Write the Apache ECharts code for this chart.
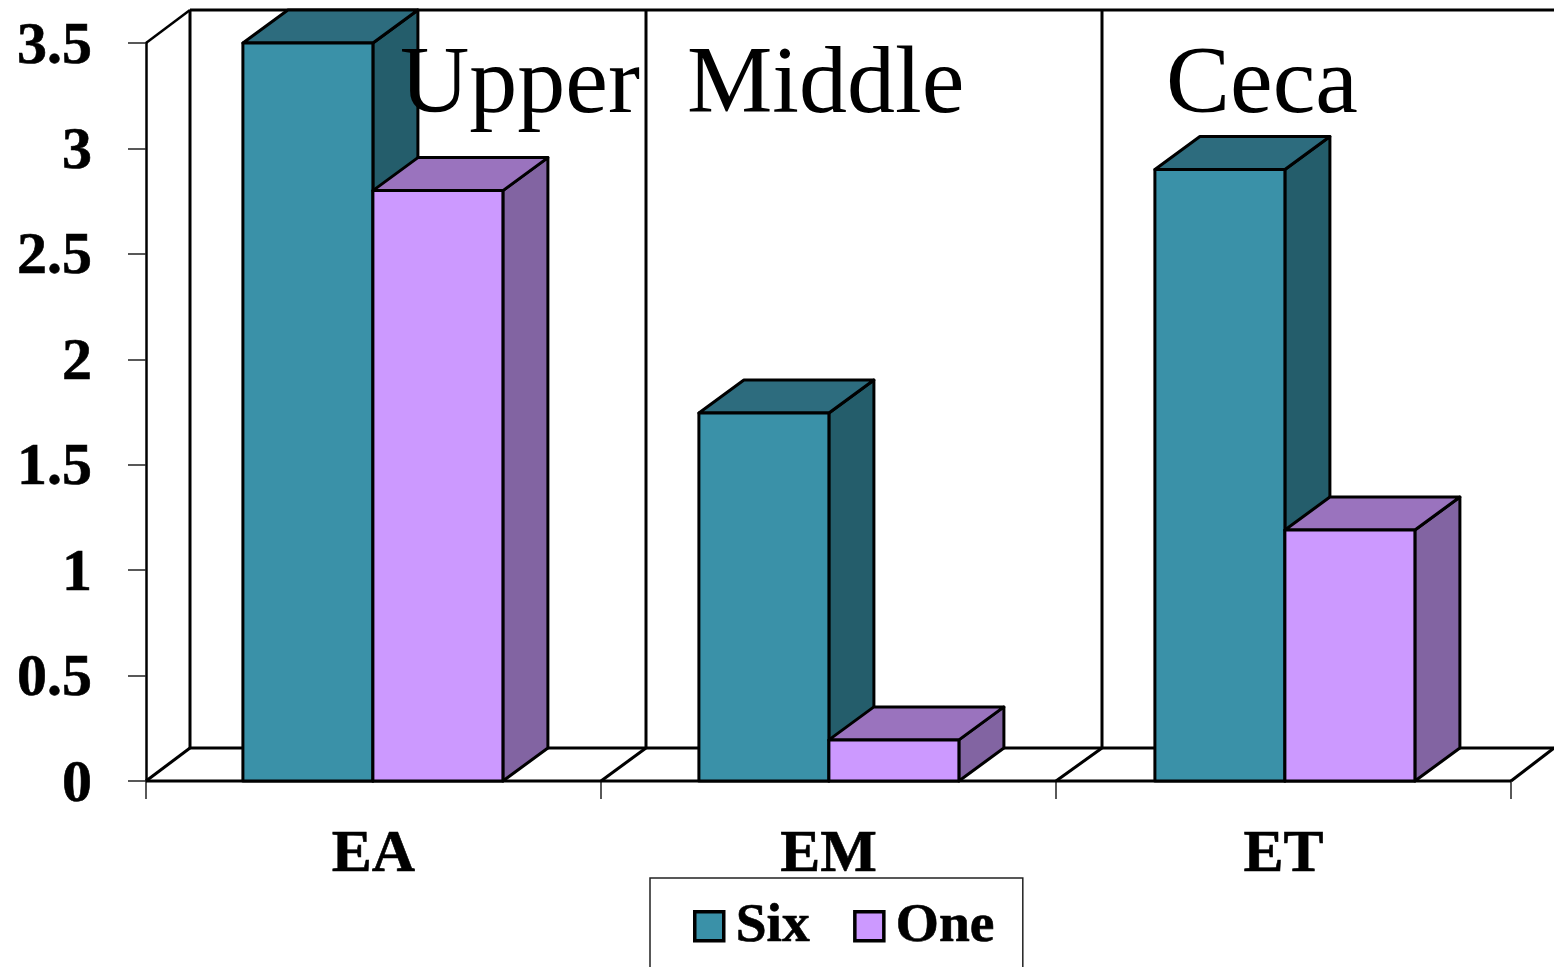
<!DOCTYPE html>
<html>
<head>
<meta charset="utf-8">
<style>html,body{margin:0;padding:0;background:#fff;overflow:hidden}#chart{width:1554px;height:967px}</style>
<script src="https://cdn.jsdelivr.net/npm/echarts@6/dist/echarts.min.js"></script>
</head>
<body>
<div id="chart"></div>
<script>
const categories = ['EA', 'EM', 'ET'];
const six = [3.5, 1.745, 2.9];
const one = [2.8, 0.195, 1.19];
const yMax = 3.5;
const yStep = 0.5;
const regionNames = ['Upper', 'Middle', 'Ceca'];

const serif = '"Liberation Serif", "Times New Roman", serif';
const depthX = 45, depthY = 33;
const barShare = 2 / 7;
// The 3D projection spreads each category slightly further right than the axis step.
const barDrift = 1, wallDrift = 1;
const sixColors = { front: '#3A91A8', top: '#2D6C7E', side: '#245D6B' };
const oneColors = { front: '#CC99FF', top: '#9A73BE', side: '#8264A2' };

function poly(points, fill, width) {
  return {
    type: 'polygon',
    shape: { points },
    style: { fill, stroke: '#000', lineWidth: width, lineJoin: 'round' }
  };
}

// A box with front, top and side faces; offset is -1 for the left bar of a pair, 0 for the right one.
function boxRenderer(colors, offset) {
  return function (params, api) {
    const cat = api.value(0);
    const top = api.coord([cat, api.value(1)]);
    const base = api.coord([cat, 0]);
    const w = api.size([1, 0])[0] * barShare;
    const x0 = base[0] + offset * w + cat * barDrift - 0.6, x1 = x0 + w;
    const y0 = base[1], y1 = top[1];
    return {
      type: 'group',
      children: [
        poly([[x1, y0], [x1 + depthX, y0 - depthY], [x1 + depthX, y1 - depthY], [x1, y1]], colors.side, 3),
        poly([[x0, y1], [x0 + depthX, y1 - depthY], [x1 + depthX, y1 - depthY], [x1, y1]], colors.top, 3),
        poly([[x0, y0], [x1, y0], [x1, y1], [x0, y1]], colors.front, 3)
      ]
    };
  };
}

function seg(a, b, width) {
  return {
    type: 'line',
    shape: { x1: a[0], y1: a[1], x2: b[0], y2: b[1] },
    style: { stroke: '#000', lineWidth: width }
  };
}

// Side wall, back wall dividers and floor edges of the box the bars stand in.
function wallRenderer(params, api) {
  const cat = api.value(0);
  const band = api.size([1, 0])[0];
  const base = api.coord([cat, 0]);
  const ceil = api.coord([cat, yMax]);
  const xL = base[0] - band / 2, xR = base[0] + band / 2;
  const yB = base[1], yT = ceil[1];
  const backL = xL + depthX - 1 + cat * wallDrift;
  const backR = xR + depthX - 1 + (cat + 1) * wallDrift;
  const parts = [
    seg([xL, yB], [backL, yB - depthY], 3),
    seg([backL, yB - depthY], [backL, yT - depthY], 3),
    seg([backL, yB - depthY], [backR, yB - depthY], 3),
    seg([backL, yT - depthY], [backR, yT - depthY], 3),
    seg([xL, yB], [xR, yB], 3)
  ];
  if (cat === 0) parts.push(seg([xL, yT], [backL, yT - depthY], 2.5));
  if (cat === categories.length - 1) parts.push(seg([xR, yB], [xR + depthX - 2, yB - depthY], 3));
  return { type: 'group', children: parts };
}

const chart = echarts.init(document.getElementById('chart'), null, { renderer: 'canvas' });
chart.setOption({
  animation: false,
  backgroundColor: '#fff',
  grid: { left: 146, top: 43, width: 1365, height: 738, containLabel: false },
  xAxis: {
    type: 'category',
    data: categories,
    axisLine: { show: false },
    axisTick: { show: true, length: 18, alignWithLabel: false, lineStyle: { color: '#222', width: 1.5 } },
    axisLabel: { margin: 44, color: '#000', fontFamily: serif, fontWeight: 'bold', fontSize: 60, textBorderColor: '#000', textBorderWidth: 0.6 }
  },
  yAxis: {
    type: 'value',
    min: 0,
    max: yMax,
    interval: yStep,
    splitLine: { show: false },
    axisLine: { show: true, lineStyle: { color: '#000', width: 2.5 } },
    axisTick: { show: true, length: 18, lineStyle: { color: '#222', width: 1.5 } },
    axisLabel: { margin: 54, color: '#000', fontFamily: serif, fontWeight: 'bold', fontSize: 60, verticalAlign: 'top', padding: [-26, 0, 0, 0], textBorderColor: '#000', textBorderWidth: 0.6 }
  },
  legend: {
    data: ['Six', 'One'],
    left: 650,
    top: 878,
    padding: [20, 28, 60, 43],
    orient: 'horizontal',
    itemWidth: 29,
    itemHeight: 29,
    itemGap: 43,
    borderColor: '#222',
    borderWidth: 1.5,
    icon: 'rect',
    selectedMode: false,
    itemStyle: { borderColor: '#000', borderWidth: 3.5 },
    textStyle: { color: '#000', fontFamily: serif, fontWeight: 'bold', fontSize: 55.5, padding: [0, 0, 6, 7], textBorderColor: '#000', textBorderWidth: 0.6 }
  },
  series: [
    {
      name: 'walls',
      type: 'custom',
      z: 1,
      renderItem: wallRenderer,
      encode: { x: 0, y: 1 },
      data: categories.map((c, i) => [i, 0])
    },
    {
      name: 'Six',
      type: 'custom',
      z: 2,
      itemStyle: { color: sixColors.front },
      renderItem: boxRenderer(sixColors, -1),
      encode: { x: 0, y: 1 },
      data: six.map((v, i) => [i, v])
    },
    {
      name: 'One',
      type: 'custom',
      z: 3,
      itemStyle: { color: oneColors.front },
      renderItem: boxRenderer(oneColors, 0),
      encode: { x: 0, y: 1 },
      data: one.map((v, i) => [i, v])
    }
  ],
  graphic: regionNames.map((name, i) => ({
    type: 'text',
    left: [400, 687, 1166][i],
    top: 39,
    z: 10,
    style: { text: name, fill: '#000', font: '96px ' + serif }
  }))
});
</script>
</body>
</html>
